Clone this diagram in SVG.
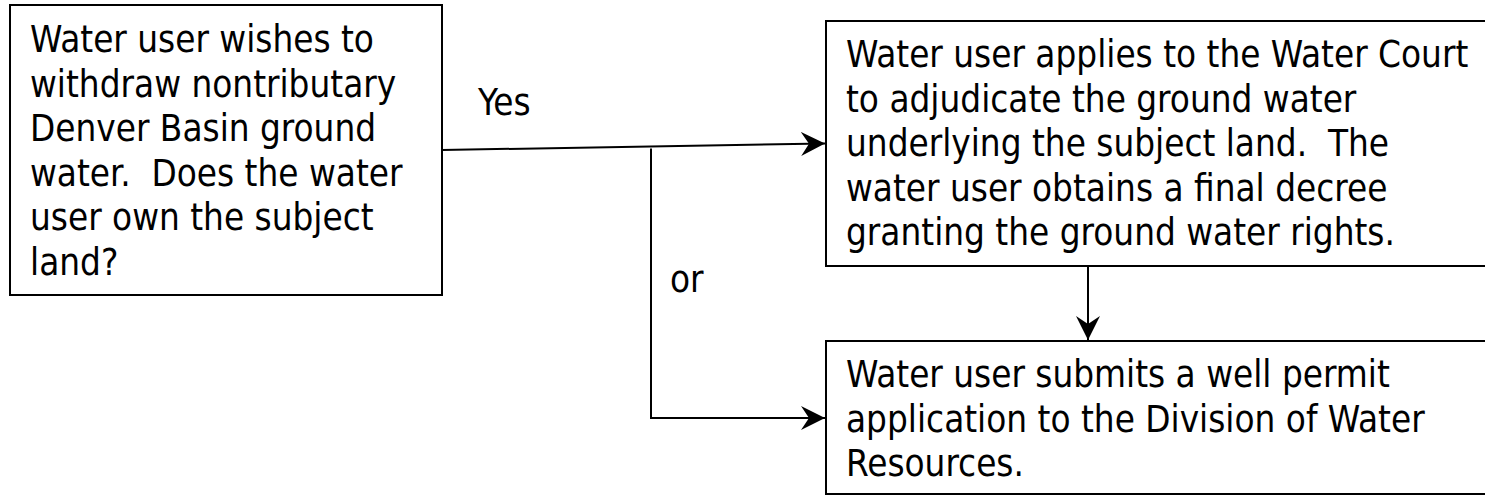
<svg xmlns="http://www.w3.org/2000/svg" width="1485" height="496" viewBox="0 0 1485 496">
  <defs>
    <style>
      .box { fill: #ffffff; stroke: #000000; stroke-width: 2; }
      .txt { font-family: "DejaVu Sans Condensed", "DejaVu Sans", sans-serif; font-stretch: condensed; font-size: 36.5px; fill: #000000; white-space: pre; }
      .conn { fill: none; stroke: #000000; stroke-width: 2; }
    </style>
    <marker id="arrow" viewBox="0 0 24 24" refX="24" refY="12" markerWidth="24" markerHeight="24" markerUnits="userSpaceOnUse" orient="auto">
      <path d="M0,0 L24,12 L0,24 L8,12 Z" fill="#000000"/>
    </marker>
  </defs>
  <rect width="1485" height="496" fill="#ffffff"/>

  <g id="node-question">
    <rect class="box" x="10" y="5" width="432" height="290"/>
    <text class="txt" x="30" y="52">Water user wishes to</text>
    <text class="txt" x="30" y="96.6">withdraw nontributary</text>
    <text class="txt" x="30" y="141.2">Denver Basin ground</text>
    <text class="txt" x="30" y="185.8" xml:space="preserve">water.  Does the water</text>
    <text class="txt" x="30" y="230.4">user own the subject</text>
    <text class="txt" x="30" y="275">land?</text>
  </g>

  <g id="node-water-court">
    <rect class="box" x="826" y="21" width="670" height="245"/>
    <text class="txt" x="846" y="67">Water user applies to the Water Court</text>
    <text class="txt" x="846" y="111.5">to adjudicate the ground water</text>
    <text class="txt" x="846" y="156" xml:space="preserve">underlying the subject land.  The</text>
    <text class="txt" x="846" y="200.5">water user obtains a final decree</text>
    <text class="txt" x="846" y="245">granting the ground water rights.</text>
  </g>

  <g id="node-well-permit">
    <rect class="box" x="826" y="341" width="670" height="153"/>
    <text class="txt" x="846" y="387">Water user submits a well permit</text>
    <text class="txt" x="846" y="431.5">application to the Division of Water</text>
    <text class="txt" x="846" y="476">Resources.</text>
  </g>

  <g id="connectors">
    <path class="conn" d="M442,150 L825,143.5" marker-end="url(#arrow)"/>
    <path class="conn" d="M651,148.5 L651,418 L825,418" marker-end="url(#arrow)"/>
    <path class="conn" d="M1088,266 L1088,340" marker-end="url(#arrow)"/>
    <text class="txt" x="478" y="115">Yes</text>
    <text class="txt" x="670" y="292">or</text>
  </g>
</svg>
